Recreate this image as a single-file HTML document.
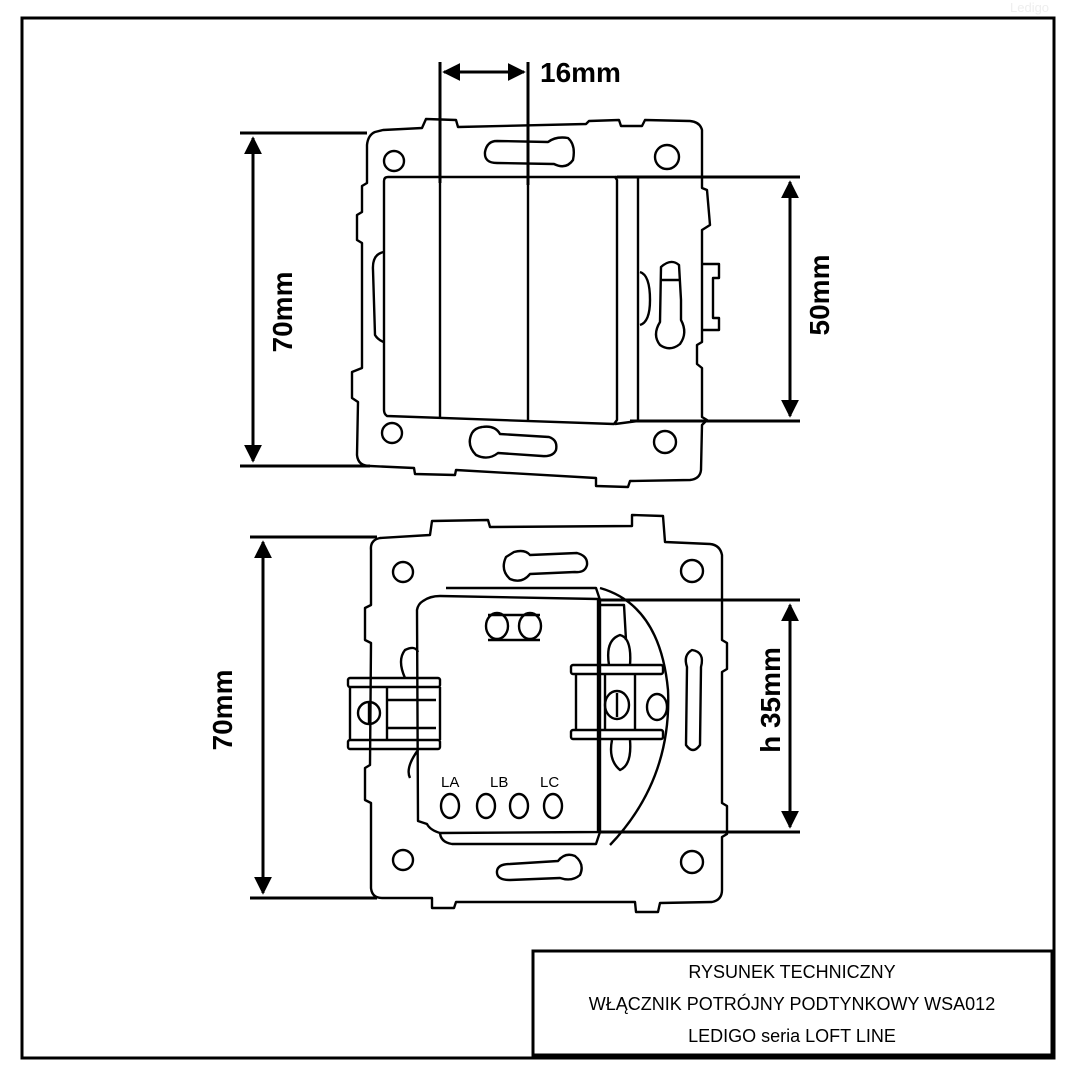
<!DOCTYPE html>
<html><head><meta charset="utf-8"><style>
html,body{margin:0;padding:0;background:#fff;}
svg{display:block;}
text{font-family:"Liberation Sans",sans-serif;}
</style></head><body>
<svg width="1080" height="1080" viewBox="0 0 1080 1080" xmlns="http://www.w3.org/2000/svg">
<defs>
<marker id="ah" viewBox="0 0 10 10" refX="9" refY="5" markerWidth="6" markerHeight="6" orient="auto-start-reverse"><path d="M0,0 L10,5 L0,10 z" fill="#000"/></marker>
</defs>
<text x="1010" y="12" font-size="13" fill="#eee">Ledigo</text>
<rect x="22" y="18" width="1032" height="1040" fill="none" stroke="#000" stroke-width="3"/>
<rect x="533" y="951" width="519" height="104" fill="#fff" stroke="#000" stroke-width="3"/>
<text x="792" y="978" font-size="18" text-anchor="middle">RYSUNEK TECHNICZNY</text>
<text x="792" y="1010" font-size="18" text-anchor="middle">WŁĄCZNIK POTRÓJNY PODTYNKOWY WSA012</text>
<text x="792" y="1042" font-size="18" text-anchor="middle">LEDIGO seria LOFT LINE</text>

<g fill="none" stroke="#000" stroke-width="2.4" stroke-linejoin="round">
<path d="M375,132 Q368,135 367,145 L367,183 L362,186 L362,212 L357,215 L357,240 L362,243 L362,368 L352,372 L352,398 L358,402 L357,455 Q358,466 370,466 L414,468 L415,474 L455,475 L456,470 L596,478 L596,486 L628,487 L630,481 L690,480 Q700,479 701,470 L702,425 L707,420 L702,417 L702,368 L697,364 L697,345 L702,342 L702,230 L710,225 L707,190 L702,188 L702,130 Q700,122 690,121 L645,120 L642,126 L621,126 L619,120 L589,121 L586,124 L458,127 L456,120 L426,119 L422,128 L383,130 Z"/>
<circle cx="394" cy="161" r="10"/><circle cx="667" cy="157" r="12"/>
<circle cx="392" cy="433" r="10"/><circle cx="665" cy="442" r="11"/>
<path d="M497,141 L548,142 Q556,136 568,138 Q576,145 573,160 Q566,170 554,164 L497,163 Q484,163 485,152 Q487,141 497,141 Z"/>
<path d="M482,427 Q495,425 500,434 L549,437 Q558,440 556,450 Q553,457 542,456 L498,453 Q488,461 476,455 Q466,445 472,433 Q475,428 482,427 Z"/>
<path d="M388,177 L615,177 L617,180 L617,420 L614,424 L387,416 Q384,414 384,410 L384,181 Q384,177 388,177 Z"/>
<path d="M615,177 L638,177 L638,421 L615,424"/>
<line x1="440" y1="180" x2="440" y2="418"/><line x1="528" y1="182" x2="528" y2="421"/>
<path d="M384,252 Q372,254 373,270 L375,335 Q378,340 384,342"/>
<path d="M640,272 Q650,275 650,300 Q650,322 640,325"/>
<path d="M661,267 Q671,258 679,265 L681,300 L681,320 Q688,333 680,344 Q670,352 660,345 Q652,335 660,322 Z"/>
<path d="M660,280 L680,280"/>
<path d="M703,264 L719,264 L719,278 L713,278 L713,318 L719,318 L719,330 L703,330"/>

<path d="M380,538 Q370,540 371,550 L371,605 L365,608 L365,640 L371,643 L370,765 L365,768 L365,800 L371,803 L371,888 Q372,898 382,898 L432,898 L432,908 L454,908 L456,902 L635,902 L636,912 L658,912 L660,903 L712,902 Q722,900 722,890 L722,837 L727,834 L727,806 L722,803 L722,672 L727,669 L727,643 L722,640 L722,555 Q720,545 710,544 L665,542 L663,516 L632,515 L632,526 L490,527 L488,520 L432,521 L430,535 Z"/>
<circle cx="403" cy="572" r="10"/><circle cx="692" cy="571" r="11"/>
<circle cx="403" cy="860" r="10"/><circle cx="692" cy="862" r="11"/>
<path d="M514,552 Q525,549 530,555 L577,553 Q588,556 587,565 Q585,573 575,572 L530,574 Q522,584 510,579 Q500,570 506,557 Z"/>
<path d="M510,864 L558,861 Q565,852 575,856 Q585,864 580,875 Q572,882 560,878 L510,880 Q496,880 497,871 Q498,864 510,864 Z"/>
<path d="M446,588 L596,588 L600,600 L600,832 L596,844 L452,844 Q440,842 440,832"/>
<path d="M423,601 Q430,596 440,596 L598,599 L598,832 L440,833 Q430,830 427,824 L418,821 L417,610 Q418,604 423,601 Z"/>
<path d="M600,588 Q660,605 668,690 Q672,780 610,845"/>
<path d="M600,605 L624,605 L626,640"/>
<ellipse cx="497" cy="626" rx="11" ry="13"/><ellipse cx="530" cy="626" rx="11" ry="13"/>
<path d="M488,615 L540,615 M488,640 L540,640"/>
<ellipse cx="450" cy="806" rx="9" ry="12"/><ellipse cx="486" cy="806" rx="9" ry="12"/>
<ellipse cx="519" cy="806" rx="9" ry="12"/><ellipse cx="553" cy="806" rx="9" ry="12"/>
<rect x="348" y="678" width="92" height="9" rx="2"/><rect x="348" y="740" width="92" height="9" rx="2"/>
<path d="M350,687 L350,740 M387,687 L387,740 M440,687 L440,740"/>
<circle cx="369" cy="713" r="11"/><line x1="369" y1="703" x2="369" y2="723"/>
<path d="M387,700 L436,700 M387,728 L436,728"/>
<path d="M405,678 Q397,660 405,650 Q415,645 418,652 M418,750 Q405,768 410,778"/>
<rect x="571" y="665" width="92" height="9" rx="2"/><rect x="571" y="730" width="92" height="9" rx="2"/>
<path d="M576,674 L576,730 M605,674 L605,730 M635,674 L635,730"/>
<ellipse cx="617" cy="705" rx="12" ry="14"/><line x1="617" y1="693" x2="617" y2="717"/>
<ellipse cx="657" cy="707" rx="10" ry="13"/>
<path d="M609,665 Q605,640 620,635 Q632,638 630,665 M612,740 Q608,760 620,770 Q632,765 630,740"/>
<path d="M687,667 Q683,655 692,650 Q705,652 701,667 L700,745 Q693,755 686,745 Z"/>
</g>
<text x="441" y="787" font-size="15">LA</text>
<text x="490" y="787" font-size="15">LB</text>
<text x="540" y="787" font-size="15">LC</text>

<g stroke="#000" stroke-width="3" fill="none">
<line x1="440" y1="62" x2="440" y2="183"/><line x1="528" y1="62" x2="528" y2="185"/>
<line x1="444" y1="72" x2="524" y2="72" marker-start="url(#ah)" marker-end="url(#ah)"/>
<line x1="240" y1="133" x2="367" y2="133"/><line x1="240" y1="466" x2="370" y2="466"/>
<line x1="253" y1="138" x2="253" y2="461" marker-start="url(#ah)" marker-end="url(#ah)"/>
<line x1="617" y1="177" x2="800" y2="177"/><line x1="630" y1="421" x2="800" y2="421"/>
<line x1="790" y1="182" x2="790" y2="416" marker-start="url(#ah)" marker-end="url(#ah)"/>
<line x1="250" y1="537" x2="377" y2="537"/><line x1="250" y1="898" x2="377" y2="898"/>
<line x1="263" y1="542" x2="263" y2="893" marker-start="url(#ah)" marker-end="url(#ah)"/>
<line x1="600" y1="600" x2="800" y2="600"/><line x1="600" y1="832" x2="800" y2="832"/>
<line x1="790" y1="605" x2="790" y2="827" marker-start="url(#ah)" marker-end="url(#ah)"/>
</g>
<g font-weight="bold" font-size="28" fill="#000">
<text x="540" y="82">16mm</text>
<text transform="translate(292,312) rotate(-90)" text-anchor="middle">70mm</text>
<text transform="translate(829,295) rotate(-90)" text-anchor="middle">50mm</text>
<text transform="translate(232,710) rotate(-90)" text-anchor="middle">70mm</text>
<text transform="translate(780,700) rotate(-90)" text-anchor="middle">h 35mm</text>
</g>
</svg>
</body></html>
